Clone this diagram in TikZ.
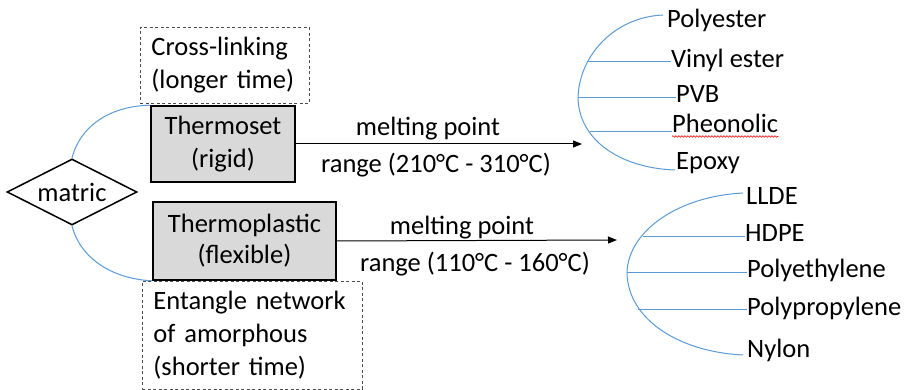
\documentclass[tikz,border=0pt]{standalone}
\usepackage{fontspec}
\setmainfont{Carlito}
\usetikzlibrary{shapes.geometric,arrows.meta,decorations.pathmorphing}
\definecolor{bl}{HTML}{5B9BD5}
\definecolor{boxgray}{HTML}{D9D9D9}
\begin{document}
\begin{tikzpicture}[x=1pt,y=-1pt,
  every node/.style={font=\fontsize{26.5}{33}\selectfont},
  mainbox/.style={draw=black,line width=1.6pt,fill=boxgray,align=center,inner sep=0pt},
  notebox/.style={draw=black!70,line width=0.9pt,dash pattern=on 3pt off 2.5pt,align=left,inner xsep=11pt,inner ysep=0pt,anchor=north west},
  branch/.style={draw=bl,line width=1pt},
  arr/.style={draw=black,line width=1pt,-{Triangle[length=9pt,width=7pt]}},
  item/.style={anchor=base west,inner sep=0pt},
  lbl/.style={inner sep=0pt}]
\clip (0,0) rectangle (911,390);
\fill[white] (0,0) rectangle (911,390);

% left part
\node[draw,line width=1.5pt,shape=diamond,aspect=2,minimum width=130pt,minimum height=66pt,inner sep=0pt] (matric) at (72,192) {matric};
\node[mainbox,minimum width=144pt,minimum height=76pt] (tset) at (223,144) {Thermoset\\(rigid)};
\node[mainbox,minimum width=183pt,minimum height=78pt,font=\fontsize{26.5}{31}\selectfont] (tplast) at (244.5,241) {Thermoplastic\\(flexible)};
\node[notebox,text width=147pt,minimum height=76pt] (cross) at (140,27) {Cross-linking\\(longer time)};
\node[notebox,text width=198pt,minimum height=108pt] (ent) at (142,281) {Entangle network\\of amorphous\\(shorter time)};

\draw[branch] (matric.north) .. controls (80,126) and (110,106) .. (tset.north west);
\draw[branch] (matric.south) .. controls (80,258) and (112,279) .. (tplast.south west);

% arrows
\coordinate (e1) at (582,144);
\draw[arr] (tset.east) -- (e1);
\node[lbl] (mp1) at (428,128.5) {melting point};
\node[lbl] (r1) at (436,165) {range (210°C - 310°C)};
\coordinate (e2) at (617,240);
\draw[arr] (tplast.east) -- (e2);
\node[lbl] (mp2) at (462,228) {melting point};
\node[lbl] (r2) at (475,264) {range (110°C - 160°C)};

% thermoset items
\node[item] (poly) at (667,28) {Polyester};
\node[item] (vinyl) at (671,68) {Vinyl ester};
\node[item] (pvb) at (676,103) {PVB};
\node[item] (pheo) at (672,133) {Pheonolic};
\node[item] (epoxy) at (676,170) {Epoxy};
\coordinate (t1) at (663,15);
\coordinate (m1) at (578,98);
\coordinate (b1) at (675,170);
\coordinate (c1) at (588,62);
\coordinate (c3) at (590,132);
\draw[branch] (t1) .. controls (615,17) and (579,55) .. (m1) .. controls (579,140) and (620,168) .. (b1);
\draw[branch] (c1) -- (c1 -| vinyl.west);
\draw[branch] (m1) -- (m1 -| pvb.west);
\draw[branch] (c3) -- (c3 -| pheo.west);
\draw[red,line width=0.6pt,decorate,decoration={snake,amplitude=0.8pt,segment length=3pt}] ([yshift=-3.5pt]pheo.base west) -- ([yshift=-3.5pt]pheo.base east);

% thermoplastic items
\node[item] (llde) at (746,205) {LLDE};
\node[item] (hdpe) at (745,242) {HDPE};
\node[item] (pe) at (747,278) {Polyethylene};
\node[item] (pp) at (747,316) {Polypropylene};
\node[item] (nylon) at (747,357) {Nylon};
\coordinate (t2) at (743,193);
\coordinate (m2) at (627,273);
\coordinate (b2) at (743,355);
\coordinate (c4) at (643,237);
\coordinate (c6) at (638,310);
\draw[branch] (t2) .. controls (680,196) and (628,230) .. (m2) .. controls (628,320) and (680,352) .. (b2);
\draw[branch] (c4) -- (c4 -| hdpe.west);
\draw[branch] (m2) -- (m2 -| pe.west);
\draw[branch] (c6) -- (c6 -| pp.west);
\end{tikzpicture}
\end{document}
